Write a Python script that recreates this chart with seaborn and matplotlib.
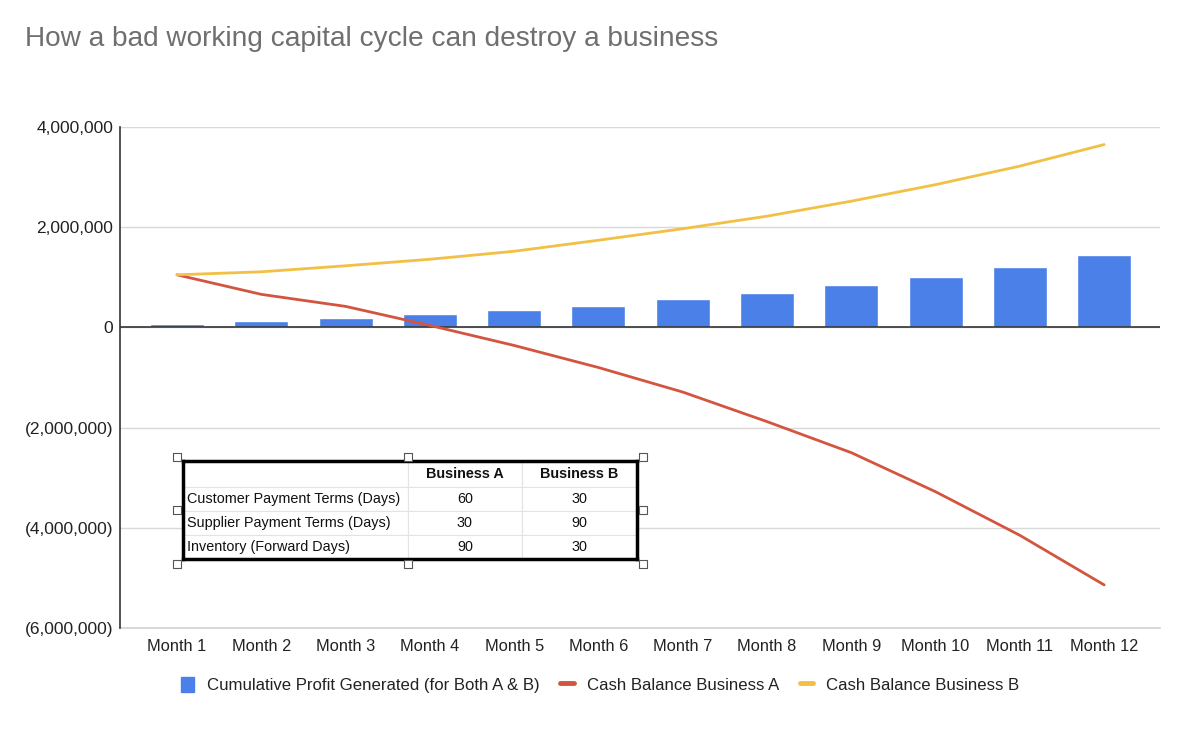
import numpy as np
import pandas as pd
import seaborn as sns
import matplotlib.pyplot as plt
from matplotlib.lines import Line2D
from matplotlib.patches import Patch
from matplotlib.ticker import FuncFormatter

# -----------------------------
# Data
# -----------------------------
months = [f"Month {i}" for i in range(1, 13)]
profit = [60000, 120000, 180000, 260000, 340000, 420000,
          570000, 680000, 850000, 1010000, 1210000, 1440000]
cash_a = [1050000, 660000, 420000, 40000, -360000, -800000,
          -1290000, -1880000, -2500000, -3280000, -4150000, -5140000]
cash_b = [1050000, 1110000, 1230000, 1360000, 1520000, 1740000,
          1970000, 2220000, 2520000, 2850000, 3220000, 3650000]

table_cols = ["", "Business A", "Business B"]
table_rows = ["Customer Payment Terms (Days)",
              "Supplier Payment Terms (Days)",
              "Inventory (Forward Days)"]
terms_a = [60, 30, 90]
terms_b = [30, 90, 30]

BLUE = "#4a80e8"
RED = "#d4553f"
YELLOW = "#f1c045"

sns.set_style("white")
plt.rcParams["font.family"] = ["Liberation Sans", "DejaVu Sans"]

df = pd.DataFrame({"month": months, "x": range(12), "profit": profit,
                   "cash_a": cash_a, "cash_b": cash_b})

fig = plt.figure(figsize=(11.79, 7.3), dpi=100)
ax = fig.add_axes([0.1018, 0.1397, 0.8822, 0.6863])

# -----------------------------
# Bars + lines
# -----------------------------
sns.barplot(data=df, x="month", y="profit", color=BLUE, saturation=1,
            width=0.64, ax=ax, zorder=2)
sns.lineplot(data=df, x="x", y="cash_a", color=RED, linewidth=2.0,
             ax=ax, zorder=4)
sns.lineplot(data=df, x="x", y="cash_b", color=YELLOW, linewidth=2.0,
             ax=ax, zorder=4)

ax.set_xlim(-0.676, 11.664)
ax.set_ylim(-6000000, 4000000)
ax.set_yticks(np.arange(-6000000, 4000001, 2000000))


def money(v, pos):
    if v < 0:
        return f"({abs(v):,.0f})"
    return f"{v:,.0f}"


ax.yaxis.set_major_formatter(FuncFormatter(money))
ax.grid(axis="y", color="#d9d9d9", linewidth=1.0, zorder=0)
ax.axhline(-6000000, color="#d9d9d9", linewidth=1.5, clip_on=False, zorder=1)
ax.axhline(0, color="#333333", linewidth=1.2, zorder=3)
for s in ["top", "right", "bottom"]:
    ax.spines[s].set_visible(False)
ax.spines["left"].set_color("#333333")
ax.spines["left"].set_linewidth(1.2)
ax.tick_params(axis="both", length=0, colors="#222222")
ax.tick_params(axis="x", pad=8, labelsize=11.8)
ax.tick_params(axis="y", pad=5, labelsize=12.5)
ax.set_xlabel("")
ax.set_ylabel("")

# -----------------------------
# Title
# -----------------------------
fig.text(0.021, 0.947, "How a bad working capital cycle can destroy a business",
         fontsize=20.2, color="#6f6f6f", va="center", ha="left")

# -----------------------------
# Legend
# -----------------------------
handles = [
    Patch(facecolor=BLUE, edgecolor=BLUE),
    Line2D([0], [0], color=RED, linewidth=3.5),
    Line2D([0], [0], color=YELLOW, linewidth=3.5),
]
labels = ["Cumulative Profit Generated (for Both A & B)",
          "Cash Balance Business A", "Cash Balance Business B"]
fig.legend(handles, labels, loc="center", bbox_to_anchor=(0.509, 0.062),
           ncol=3, frameon=False, fontsize=12.1, handlelength=0.8,
           handleheight=1.0, handletextpad=0.8, columnspacing=1.2,
           labelcolor="#222222")

# -----------------------------
# Inset table
# -----------------------------
tax = fig.add_axes([0.1552, 0.2342, 0.385, 0.1342])
tax.set_xlim(0, 1)
tax.set_ylim(0, 1)
tax.set_xticks([])
tax.set_yticks([])
for s in tax.spines.values():
    s.set_linewidth(2.5)
    s.set_color("black")

cell_text = [[r, str(a), str(b)] for r, a, b in zip(table_rows, terms_a, terms_b)]
tbl = tax.table(cellText=cell_text, colLabels=table_cols,
                bbox=[0, 0, 1, 1], colWidths=[0.495, 0.252, 0.253],
                cellLoc="center")
tbl.auto_set_font_size(False)
tbl.set_fontsize(10.4)
for (r, c), cell in tbl.get_celld().items():
    cell.set_edgecolor("#e3e3e3")
    cell.set_linewidth(0.8)
    cell.set_height(0.265 if r == 0 else 0.245)
    cell.get_text().set_color("#111111")
    if r == 0:
        cell.get_text().set_fontweight("bold")
    if c == 0:
        cell.get_text().set_ha("left")
        cell.PAD = 0.02

# selection handles around the table
hx = [-0.013, 0.495, 1.013, -0.013, 1.013, -0.013, 0.495, 1.013]
hy = [1.04, 1.04, 1.04, 0.5, 0.5, -0.05, -0.05, -0.05]
tax.scatter(hx, hy, marker="s", s=40, facecolor="white", edgecolor="#555555",
            linewidth=0.8, clip_on=False, zorder=5)

fig.savefig("out.png", dpi=100)
